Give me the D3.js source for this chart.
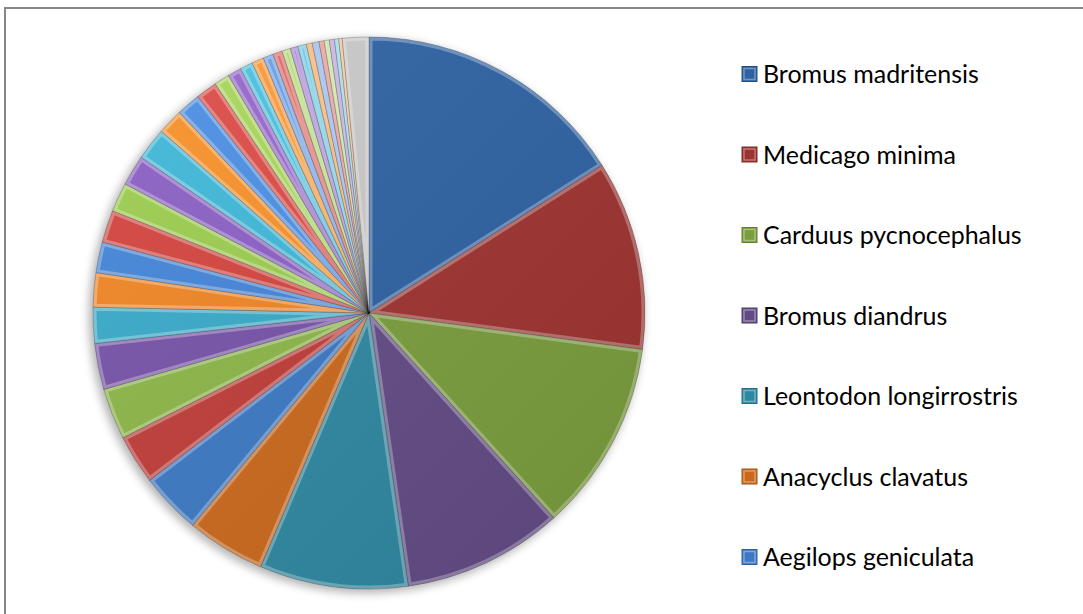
<!DOCTYPE html>
<html><head><meta charset="utf-8">
<script src="https://cdn.jsdelivr.net/npm/d3@7"></script>
<style>html,body{margin:0;padding:0;background:#fff;overflow:hidden}svg{display:block}</style>
</head><body>
<svg id="chart" width="1083" height="614"></svg>
<script>
// ---- data ----
const species = [
  "Bromus madritensis","Medicago minima","Carduus pycnocephalus","Bromus diandrus",
  "Leontodon longirrostris","Anacyclus clavatus","Aegilops geniculata",
  "sp8","sp9","sp10","sp11","sp12","sp13","sp14","sp15","sp16","sp17","sp18","sp19","sp20",
  "sp21","sp22","sp23","sp24","sp25","sp26","sp27","sp28","sp29","sp30","sp31","sp32","sp33",
  "sp34","sp35","sp36","others"
];
const cover = [
  16.0, 11.1, 11.2, 9.4, 8.7, 4.6, 3.6, 2.9, 3.0, 2.7, 2.1, 2.0,
  1.8, 1.9, 1.7, 1.8, 1.9, 1.5, 1.4, 1.25, 0.9, 0.8, 0.75, 0.7,
  0.6, 0.55, 0.5, 0.45, 0.5, 0.35, 0.4, 0.3, 0.3, 0.3, 0.25, 0.2, 1.55
];
const legendShown = 7;

// ---- styles ----
const palette = [
  "#2d61a2","#9d3330","#7a9d3d","#624b85","#2e87a0","#ca681c",
  "#3c78c3","#bf3c38","#8bb547","#7652a8","#37a9c8","#ef8525",
  "#4384d7","#d3443f","#9ccc4f","#8a5fc3","#3fb7d8","#f7912a",
  "#4b8fe3","#dc4c47","#a8d65b","#9668cc","#4cc1e0","#fa9a3a",
  "#6a9fe6","#e06c68","#b5dc76","#a684d4","#6dcbe6","#fba85a",
  "#8ab3ea","#e68c89","#c5e394","#b8a0dc","#8fd6ea","#fcbb80",
  "#c8c8c8"
];
const W = 1083, H = 614;
const cx = 369, cy = 313, R = 276;

const svg = d3.select("#chart");
const defs = svg.append("defs");

// chart border (right/bottom edges fall outside the picture)
svg.append("rect").attr("x",5).attr("y",8).attr("width",W+10).attr("height",H+10)
  .attr("fill","#fff").attr("stroke","#878787").attr("stroke-width",2);

// shadow filter
const f = defs.append("filter").attr("id","shadow").attr("x","-20%").attr("y","-20%").attr("width","140%").attr("height","140%");
f.append("feGaussianBlur").attr("stdDeviation",5);

// overall shading gradient
const lg = defs.append("linearGradient").attr("id","shade")
  .attr("x1","0").attr("y1","0").attr("x2","1").attr("y2","1");
lg.append("stop").attr("offset","0").attr("stop-color","#fff").attr("stop-opacity",0.06);
lg.append("stop").attr("offset","1").attr("stop-color","#000").attr("stop-opacity",0.08);

const pie = d3.pie().sort(null).value(d => d)(cover);
const arc = d3.arc().innerRadius(0).outerRadius(R);

const g = svg.append("g").attr("transform",`translate(${cx},${cy})`);
g.append("circle").attr("cx",-3).attr("cy",3).attr("r",R+1)
  .attr("fill","#000").attr("opacity",0.3).attr("filter","url(#shadow)");

pie.forEach((d,i) => {
  defs.append("clipPath").attr("id","c"+i).append("path").attr("d",arc(d));
});

const slices = g.selectAll("g.slice").data(pie).join("g").attr("class","slice");
slices.append("path").attr("d",arc).attr("fill",(d,i)=>palette[i % palette.length]);
slices.append("path").attr("d",arc).attr("fill","none")
  .attr("clip-path",(d,i)=>`url(#c${i})`)
  .attr("stroke","#fff").attr("stroke-opacity",0.3).attr("stroke-width",7)
  .attr("stroke-linejoin","round");
slices.append("path").attr("d",arc).attr("fill","none")
  .attr("stroke","#000").attr("stroke-opacity",0.3).attr("stroke-width",0.7);
g.append("circle").attr("r",R).attr("fill","url(#shade)");

// legend
const rowY = d3.scaleLinear().domain([0, legendShown-1]).range([74, 557]);
const lgd = svg.append("g").attr("font-family","Lato, 'Open Sans', sans-serif").attr("fill","#000");
const items = lgd.selectAll("g").data(species.slice(0,legendShown)).join("g")
  .attr("transform",(d,i)=>`translate(742,${rowY(i)})`);
items.append("rect").attr("x",0).attr("y",-7.5).attr("width",15).attr("height",15)
  .attr("fill",(d,i)=>palette[i]).attr("stroke",(d,i)=>d3.color(palette[i]).darker(0.6)).attr("stroke-width",1);
items.append("rect").attr("x",2).attr("y",-5.5).attr("width",11).attr("height",11)
  .attr("fill","none").attr("stroke","#fff").attr("stroke-opacity",0.35).attr("stroke-width",1.5);
const texts = items.append("text").attr("x",21).attr("y",9).attr("font-size",26).text(d=>d);
// fit size so that "Medicago minima" spans ~193px
const w = texts.nodes()[1].getComputedTextLength();
texts.attr("font-size", 26*193/w);
</script>
</body></html>
